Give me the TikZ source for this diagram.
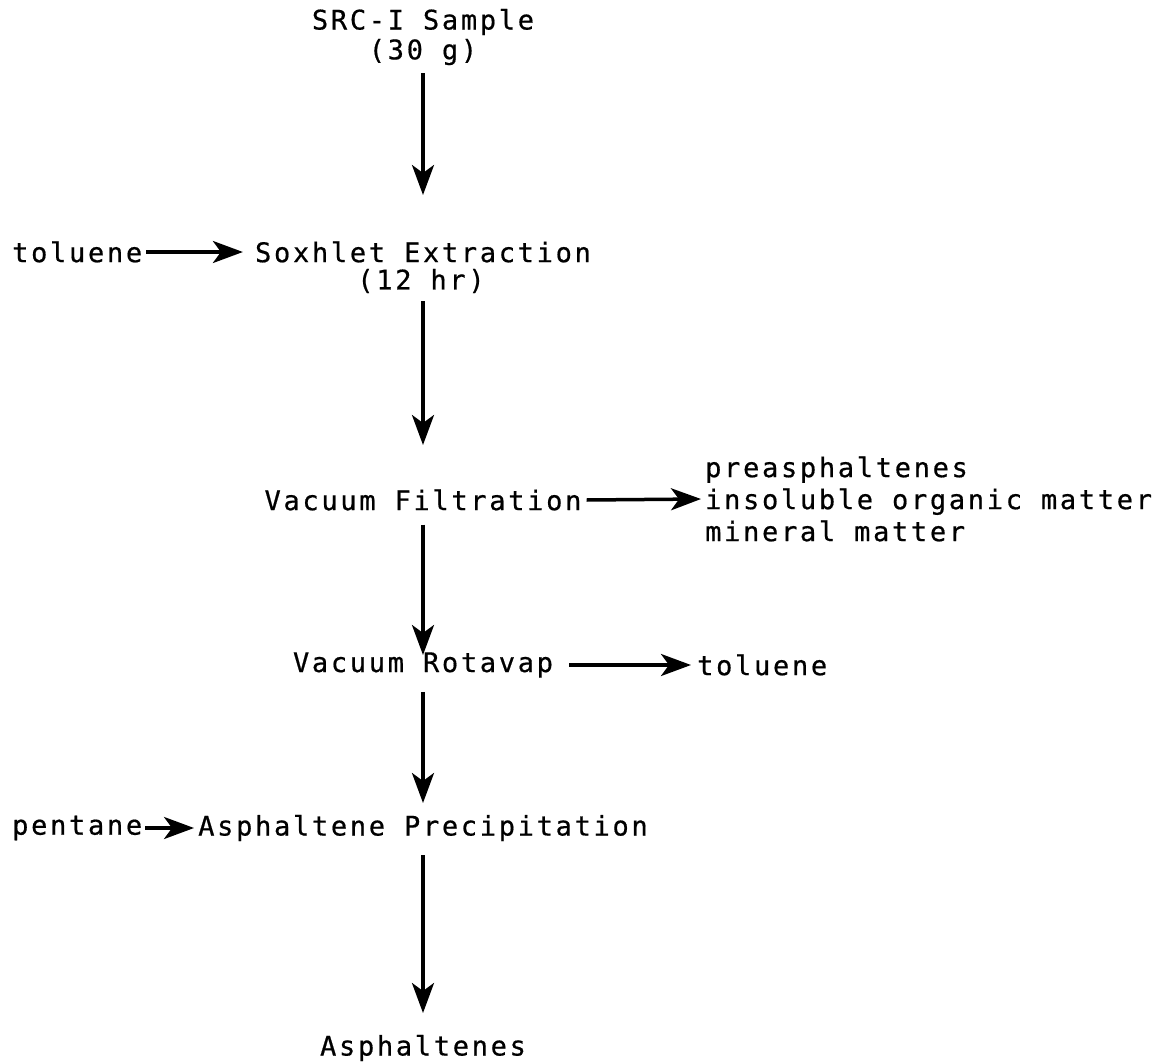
\documentclass[tikz,border=0pt]{standalone}
\usepackage{fontspec}
\setmainfont{DejaVu Sans Mono}[LetterSpace=10,FakeBold=0.6]
\usetikzlibrary{arrows.meta}
\begin{document}
\begin{tikzpicture}[x=1pt,y=-1pt,
  lbl/.style={inner sep=0pt, font=\fontsize{27}{30}\selectfont},
  arr/.style={line width=3.5pt, -{Stealth[length=30pt,width=22pt,inset=8pt]}}]
\useasboundingbox (0,0) rectangle (1171,1063);
\coordinate (ax) at (423,0);
\node[lbl] (src) at (423,22) {SRC-I Sample};
\node[lbl] (src2) at (423,52) {(30 g)};
\node[lbl] (sox) at (423,252) {Soxhlet Extraction};
\node[lbl] (sox2) at (421,281) {(12 hr)};
\node[lbl, anchor=west] (tol1) at (12,252) {toluene};
\node[lbl] (vf) at (423,500) {Vacuum Filtration};
\node[lbl, anchor=west, align=left, font=\fontsize{27}{32}\selectfont] (res) at (705,499) {preasphaltenes\\insoluble organic matter\\mineral matter};
\node[lbl] (vr) at (423,665) {Vacuum Rotavap};
\node[lbl, anchor=west] (tol2) at (697,665) {toluene};
\node[lbl, anchor=west] (pent) at (12,828) {pentane};
\node[lbl] (ap) at (423,828) {Asphaltene Precipitation};
\node[lbl] (asp) at (423,1048) {Asphaltenes};
\draw[arr] (ax |- src2.south) ++(0,8) -- (ax |- 0,195);
\draw[arr] (ax |- sox2.south) ++(0,8) -- (ax |- 0,445);
\draw[arr] (ax |- vf.south) ++(0,14) -- (ax |- 0,655);
\draw[arr] (ax |- vr.south) ++(0,14) -- (ax |- 0,803);
\draw[arr] (ax |- ap.south) ++(0,14) -- (ax |- 0,1013);
\draw[arr] (tol1.east) ++(4,0) -- ([xshift=-12pt]sox.west);
\draw[arr] (vf.east) ++(5,0) -- ([xshift=-4pt]res.west);
\draw[arr] (vr.east) ++(16,0) -- ([xshift=-6pt]tol2.west);
\draw[arr] (pent.east) ++(3,0) -- ([xshift=-4pt]ap.west);
\end{tikzpicture}
\end{document}
